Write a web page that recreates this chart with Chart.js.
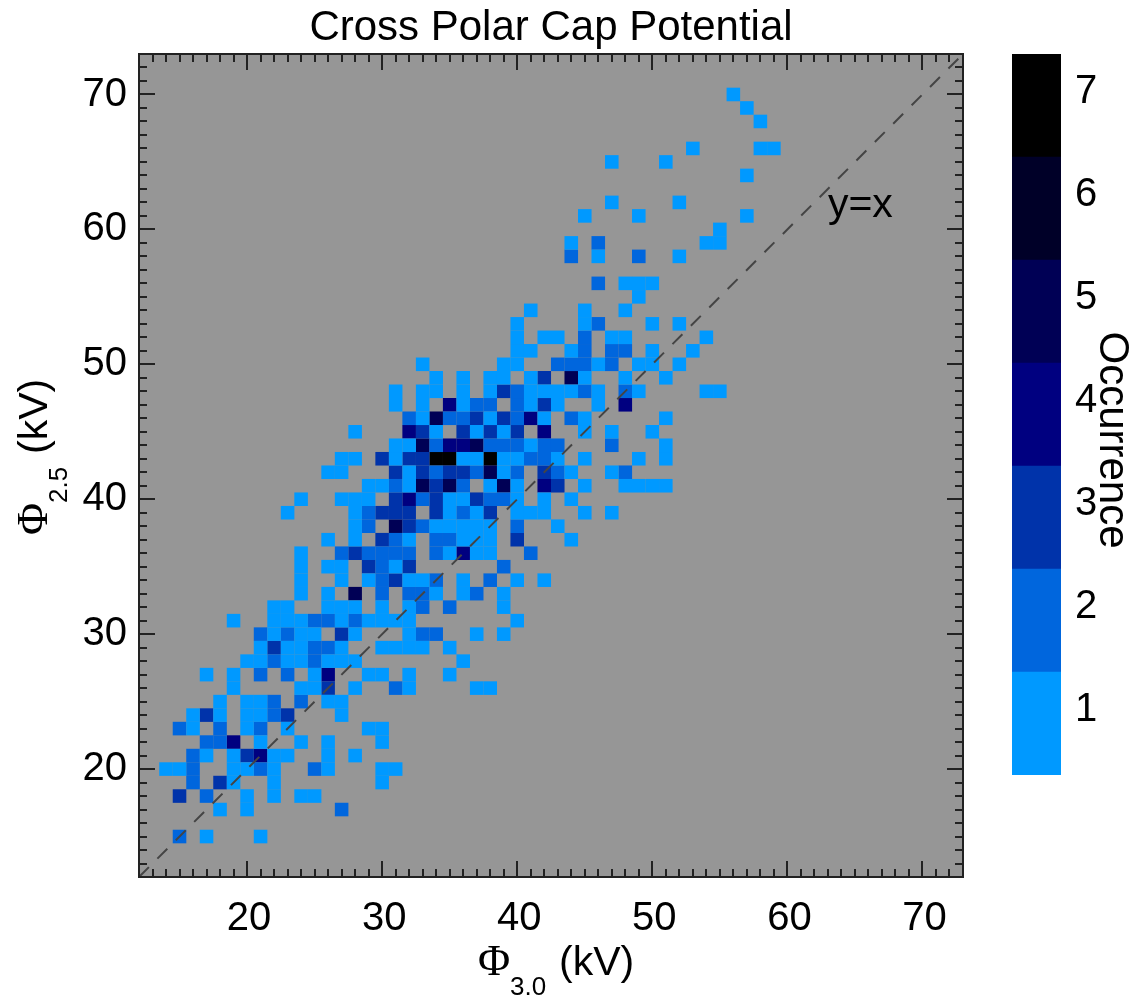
<!DOCTYPE html>
<html>
<head>
<meta charset="utf-8">
<title>Cross Polar Cap Potential</title>
<script src="https://cdn.jsdelivr.net/npm/chart.js@4"></script>
<style>
  html, body { margin: 0; padding: 0; background: #fff; overflow: hidden; }
  canvas { position: absolute; top: 0; }
  #heat { left: 0; }
  #bar { left: 1000px; }
</style>
</head>
<body>
<canvas id="heat" width="1134" height="997"></canvas>
<canvas id="bar" width="134" height="997"></canvas>
<script>
// occurrence levels + colours of the colour bar
const levels = [1, 2, 3, 4, 5, 6, 7];
const levelColors = ['#0099ff', '#0066dd', '#0033aa', '#000080', '#000055', '#000028', '#000000'];
const tickValues = [20, 30, 40, 50, 60, 70];
const axisMin = 12;
const axisMax = 73;

// phi 2.5 of each row
const rowY = [15, 17, 18, 19, 20, 21, 22, 23, 24, 25, 26, 27, 28, 29, 30, 31, 32, 33, 34, 35, 36, 37, 38, 39, 40,
  41, 42, 43, 44, 45, 46, 47, 48, 49, 50, 51, 52, 53, 54, 55, 56, 58, 59, 60, 61, 62, 64, 65, 66, 68, 69, 70];

// [phi 3.0, occurrence] cells of each row
const rowCells = [
  [[15,2],[17,1],[21,1]],
  [[18,1],[20,1],[27,2]],
  [[15,3],[17,2],[20,1],[22,1],[24,1],[25,1]],
  [[16,2],[18,3],[19,1],[22,1],[30,1]],
  [[14,1],[15,1],[16,2],[19,1],[20,1],[21,2],[22,1],[25,2],[26,1],[30,1],[31,1]],
  [[16,2],[17,1],[19,1],[20,3],[21,4],[22,1],[23,1],[26,1],[28,1]],
  [[17,2],[18,2],[19,4],[21,1],[24,1],[26,1],[30,1]],
  [[15,2],[16,1],[18,2],[20,1],[21,2],[23,1],[29,1],[30,1]],
  [[16,1],[17,3],[18,1],[20,1],[21,1],[22,2],[23,3],[27,1]],
  [[18,1],[20,1],[21,1],[22,2],[24,2],[26,1],[27,1]],
  [[19,1],[24,1],[25,1],[26,3],[28,1],[31,2],[32,1],[37,1],[38,1]],
  [[17,1],[19,1],[21,2],[23,2],[25,1],[26,4],[29,1],[30,1],[32,1],[35,1]],
  [[20,1],[21,1],[22,2],[23,1],[24,1],[25,2],[26,1],[27,1],[28,1],[36,1]],
  [[21,1],[22,3],[23,1],[24,1],[25,2],[26,2],[27,1],[30,1],[31,1],[32,1],[33,1],[35,1]],
  [[21,2],[22,1],[23,2],[24,1],[25,1],[27,3],[28,1],[32,1],[33,2],[34,2],[37,1],[39,1]],
  [[19,1],[22,1],[23,1],[24,1],[25,2],[26,2],[27,1],[28,2],[29,1],[30,1],[31,1],[32,1],[40,1]],
  [[22,1],[23,1],[26,1],[27,1],[28,1],[30,1],[32,1],[33,2],[35,2],[39,1]],
  [[24,1],[26,1],[28,5],[30,2],[32,2],[33,2],[34,1],[36,1],[37,2],[39,1]],
  [[24,1],[27,1],[29,1],[30,2],[31,3],[32,1],[33,1],[34,2],[36,1],[38,2],[40,1],[42,1]],
  [[24,1],[26,1],[27,1],[29,3],[30,2],[31,1],[32,3],[39,2]],
  [[24,1],[27,2],[28,3],[29,2],[30,2],[31,2],[32,2],[34,2],[35,1],[36,4],[37,1],[38,1],[41,2]],
  [[26,1],[28,1],[30,3],[31,2],[32,1],[34,2],[35,2],[36,1],[37,1],[38,1],[40,3],[44,1]],
  [[28,1],[29,2],[31,5],[32,3],[33,2],[34,1],[35,1],[36,1],[37,1],[38,1],[40,2],[43,1]],
  [[23,1],[28,1],[29,2],[30,3],[31,3],[32,3],[34,3],[35,1],[36,2],[37,1],[38,3],[40,1],[41,1],[42,1],[45,1],[47,1]],
  [[24,1],[27,1],[28,1],[29,1],[31,3],[32,4],[33,2],[34,3],[35,1],[36,1],[37,3],[38,2],[39,2],[40,1],[42,1],[44,1]],
  [[29,1],[30,1],[31,2],[32,1],[33,5],[34,3],[35,5],[36,2],[38,1],[39,5],[40,1],[42,4],[43,3],[45,1],[48,1],[49,1],[50,1],[51,1]],
  [[26,1],[27,1],[31,3],[32,1],[33,3],[34,2],[35,3],[36,3],[37,2],[38,5],[39,1],[40,2],[42,3],[43,2],[44,1],[47,1],[48,2]],
  [[27,1],[28,1],[30,3],[31,1],[32,3],[33,3],[34,7],[35,7],[36,1],[37,1],[38,7],[39,1],[40,1],[41,2],[42,2],[43,1],[45,1],[49,1],[51,1]],
  [[31,1],[32,1],[33,5],[34,2],[35,4],[36,4],[37,5],[38,2],[39,2],[40,2],[41,1],[42,2],[43,2],[47,2],[51,1]],
  [[28,1],[32,4],[33,3],[34,1],[36,3],[37,1],[38,3],[39,1],[40,3],[42,4],[45,1],[47,1],[50,1]],
  [[32,2],[33,1],[34,5],[35,2],[36,2],[37,3],[38,1],[39,3],[40,2],[41,4],[42,1],[44,2],[45,1],[51,1]],
  [[31,1],[33,1],[35,4],[36,1],[37,2],[38,2],[40,2],[41,1],[42,3],[43,1],[46,1],[48,4]],
  [[31,1],[33,1],[34,1],[36,1],[38,1],[39,3],[40,2],[41,1],[42,1],[43,1],[44,1],[45,2],[46,1],[48,2],[49,1],[54,1],[55,1]],
  [[34,1],[36,1],[38,1],[39,1],[41,1],[42,3],[44,5],[45,1],[48,1],[51,1]],
  [[33,1],[39,1],[40,1],[43,2],[44,2],[45,2],[46,1],[47,2],[49,1],[50,1],[52,1]],
  [[40,1],[41,1],[44,1],[45,2],[47,2],[48,2],[50,1],[53,1]],
  [[40,1],[42,1],[43,1],[45,2],[47,1],[48,1],[54,1]],
  [[40,1],[45,1],[46,2],[50,1],[52,1]],
  [[41,1],[45,1],[48,1]],
  [[49,1]],
  [[46,2],[48,1],[49,1],[50,1]],
  [[44,2],[46,1],[49,2],[52,1]],
  [[44,1],[46,2],[54,1],[55,1]],
  [[55,1]],
  [[45,1],[49,1],[57,1]],
  [[47,1],[52,1]],
  [[57,1]],
  [[47,1],[51,1]],
  [[53,1],[58,1],[59,1]],
  [[58,1]],
  [[57,1]],
  [[56,1]]
];

const sans = '"Liberation Sans", Arial, sans-serif';
const serif = '"Liberation Serif", "Times New Roman", serif';

// one scatter dataset per occurrence level, square points make the cells
const cellDatasets = levels.map((lvl, i) => {
  const pts = [];
  rowCells.forEach((cells, r) => {
    cells.forEach(c => {
      if (c[1] === lvl) pts.push({ x: c[0], y: rowY[r] });
    });
  });
  return {
    label: String(lvl),
    data: pts,
    pointStyle: 'rect',
    pointRadius: 9.6, // side of the square is r*sqrt(2) = one unit
    pointHoverRadius: 9.6,
    pointBorderWidth: 0,
    backgroundColor: levelColors[i],
    borderColor: levelColors[i]
  };
});

// phi label with a subscript, drawn along the current direction
function phiLabel(ctx, x, y, angle, sub) {
  ctx.save();
  ctx.translate(x, y);
  ctx.rotate(angle);
  ctx.fillStyle = '#000';
  ctx.textAlign = 'left';
  ctx.textBaseline = 'alphabetic';
  ctx.font = '44px ' + serif;
  ctx.fillText('Φ', 0, 0);
  ctx.font = '26px ' + sans;
  ctx.fillText(sub, 32, 20);
  ctx.font = '41px ' + sans;
  ctx.fillText('(kV)', 81, 0);
  ctx.restore();
}

const framePlugin = {
  id: 'frame',
  beforeDatasetsDraw(chart) {
    const a = chart.chartArea, ctx = chart.ctx;
    ctx.save();
    ctx.fillStyle = '#969696';
    ctx.fillRect(a.left, a.top, a.width, a.height);
    ctx.restore();
  },
  afterDatasetsDraw(chart) {
    const a = chart.chartArea, ctx = chart.ctx;
    const sx = chart.scales.x, sy = chart.scales.y;
    ctx.save();
    ctx.strokeStyle = '#222';
    ctx.lineWidth = 2;
    ctx.beginPath();
    // inward ticks on all four sides, long every 10
    for (let v = axisMin + 1; v < axisMax; v++) {
      const len = v % 10 === 0 ? 16 : 8;
      const px = Math.round(sx.getPixelForValue(v));
      const py = Math.round(sy.getPixelForValue(v));
      ctx.moveTo(px, a.bottom); ctx.lineTo(px, a.bottom - len);
      ctx.moveTo(px, a.top); ctx.lineTo(px, a.top + len);
      ctx.moveTo(a.left, py); ctx.lineTo(a.left + len, py);
      ctx.moveTo(a.right, py); ctx.lineTo(a.right - len, py);
    }
    ctx.stroke();
    ctx.strokeRect(a.left, a.top, a.width, a.height);

    ctx.fillStyle = '#000';
    ctx.font = '41px ' + sans;
    ctx.textAlign = 'left';
    ctx.textBaseline = 'alphabetic';
    ctx.fillText('y=x', sx.getPixelForValue(63), sy.getPixelForValue(60.9));
    ctx.restore();

    phiLabel(ctx, 478, 975, 0, '3.0');
    phiLabel(ctx, 47, 535, -Math.PI / 2, '2.5');
  }
};

new Chart(document.getElementById('heat'), {
  type: 'scatter',
  data: {
    datasets: [{
      label: 'y=x',
      data: [{ x: axisMin, y: axisMin }, { x: axisMax, y: axisMax }],
      showLine: true,
      borderColor: '#444',
      borderWidth: 2,
      borderDash: [14, 12],
      pointRadius: 0
    }].concat(cellDatasets)
  },
  options: {
    responsive: false,
    animation: false,
    layout: { padding: { left: 0, right: 171, top: 0, bottom: 0 } },
    plugins: {
      legend: { display: false },
      tooltip: { enabled: false },
      title: {
        display: true,
        text: 'Cross Polar Cap Potential',
        fullSize: false,
        color: '#000',
        font: { family: sans, size: 42, weight: 'normal', lineHeight: 1.2 },
        padding: { top: 3, bottom: 0.6 }
      }
    },
    scales: {
      x: {
        type: 'linear',
        min: axisMin,
        max: axisMax,
        grid: { display: false, drawTicks: false },
        border: { display: false },
        afterBuildTicks: s => { s.ticks = tickValues.map(v => ({ value: v })); },
        afterFit: s => { s.height = 120; },
        ticks: { color: '#000', padding: 18, labelOffset: 2, maxRotation: 0, font: { family: sans, size: 40 } }
      },
      y: {
        type: 'linear',
        min: axisMin,
        max: axisMax,
        grid: { display: false, drawTicks: false },
        border: { display: false },
        afterBuildTicks: s => { s.ticks = tickValues.map(v => ({ value: v })); },
        afterFit: s => { s.width = 139; },
        ticks: { color: '#000', padding: 12, font: { family: sans, size: 40 } }
      }
    }
  },
  plugins: [framePlugin]
});

// colour bar
const barTitlePlugin = {
  id: 'barTitle',
  afterDraw(chart) {
    const ctx = chart.ctx;
    ctx.save();
    ctx.translate(112, 440);
    ctx.rotate(Math.PI / 2);
    ctx.fillStyle = '#000';
    ctx.font = '42px ' + sans;
    ctx.textAlign = 'center';
    ctx.textBaseline = 'middle';
    ctx.fillText('Occurrence', 0, 0);
    ctx.restore();
  }
};

new Chart(document.getElementById('bar'), {
  type: 'bar',
  data: {
    labels: ['Occurrence'],
    datasets: levels.map((lvl, i) => ({
      label: String(lvl),
      data: [[lvl - 0.63, lvl + 0.37]],
      backgroundColor: levelColors[i],
      barPercentage: 1,
      categoryPercentage: 1
    }))
  },
  options: {
    responsive: false,
    animation: false,
    layout: { padding: { left: 12, right: 0, top: 54, bottom: 222 } },
    plugins: { legend: { display: false }, tooltip: { enabled: false } },
    scales: {
      x: { stacked: true, display: false },
      y: {
        position: 'right',
        min: 0.37,
        max: 7.37,
        grid: { display: false, drawTicks: false },
        border: { display: false },
        afterBuildTicks: s => { s.ticks = levels.map(v => ({ value: v })); },
        afterFit: s => { s.width = 73; },
        ticks: { color: '#000', padding: 14, font: { family: sans, size: 40 } }
      }
    }
  },
  plugins: [barTitlePlugin]
});
</script>
</body>
</html>
